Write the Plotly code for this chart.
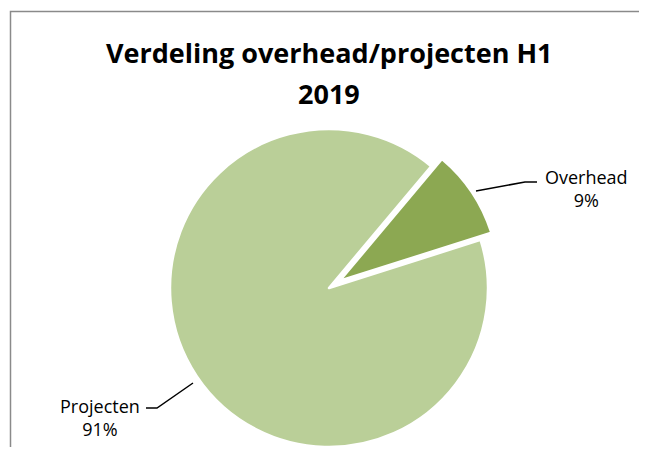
import math
import plotly.graph_objects as go

labels = ["Overhead", "Projecten"]
values = [9, 91]
colors = ["#8CA852", "#BACF98"]

# the page puts an 8px body margin around the plot, so the figure is
# made 16px smaller and all positions below are given in page pixels
OFF = 8
W, H = 647 - 2 * OFF, 455 - 2 * OFF
cx, cy, r = 329, 288, 159      # pie centre / radius (page pixels)
rotation = 40                  # start of first slice, clockwise from 12 o'clock
pull_px = 13                   # explosion of the Overhead slice


def px_x(x):
    return (x - OFF) / W


def px_y(y):
    return 1 - (y - OFF) / H


def domain(ccx, ccy):
    b = H - (ccy - OFF)
    return dict(x=[px_x(ccx - r), px_x(ccx + r)],
                y=[max(0, (b - r) / H), min(1, (b + r) / H)])


# Overhead slice is drawn as its own pie, shifted along its bisector
share = values[0] / sum(values)
mid = math.radians(rotation + share * 360 / 2)
dx, dy = pull_px * math.sin(mid), -pull_px * math.cos(mid)

clear = "rgba(0,0,0,0)"
fig = go.Figure()
fig.add_trace(go.Pie(
    labels=labels, values=values, sort=False, direction="clockwise",
    rotation=rotation, textinfo="none", hoverinfo="label+percent",
    marker=dict(colors=[clear, colors[1]], line=dict(color=[clear, "white"], width=[0, 2.5])),
    domain=domain(cx, cy), showlegend=False,
))
fig.add_trace(go.Pie(
    labels=labels, values=values, sort=False, direction="clockwise",
    rotation=rotation, textinfo="none", hoverinfo="label+percent",
    marker=dict(colors=[colors[0], clear], line=dict(color=["white", clear], width=[2.5, 0])),
    domain=domain(cx + dx, cy + dy), showlegend=False,
))

font = "'Open Sans', Calibri, sans-serif"
pct = [f"{round(v / sum(values) * 100)}%" for v in values]

fig.add_annotation(x=px_x(329), y=px_y(52), xref="paper", yref="paper",
                   text="<b>Verdeling overhead/projecten H1</b>", showarrow=False,
                   font=dict(family=font, size=27, color="black"), xanchor="center", yanchor="middle")
fig.add_annotation(x=px_x(329), y=px_y(93), xref="paper", yref="paper",
                   text="<b>2019</b>", showarrow=False,
                   font=dict(family=font, size=27, color="black"), xanchor="center", yanchor="middle")
fig.add_annotation(x=px_x(586), y=px_y(188), xref="paper", yref="paper",
                   text=f"{labels[0]}<br>{pct[0]}", showarrow=False,
                   font=dict(family=font, size=18, color="black"), xanchor="center", yanchor="middle")
fig.add_annotation(x=px_x(100), y=px_y(417), xref="paper", yref="paper",
                   text=f"{labels[1]}<br>{pct[1]}", showarrow=False,
                   font=dict(family=font, size=18, color="black"), xanchor="center", yanchor="middle")


def path(points):
    return "M " + " L ".join(f"{px_x(x)},{px_y(y)}" for x, y in points)


fig.add_shape(type="path", xref="paper", yref="paper",
              path=path([(476, 191), (525, 182), (537, 182)]), line=dict(color="black", width=1.5))
fig.add_shape(type="path", xref="paper", yref="paper",
              path=path([(146, 408), (157, 408), (193, 383)]), line=dict(color="black", width=1.5))

# chart frame: only left and top edges are inside the picture
fig.add_shape(type="path", xref="paper", yref="paper",
              path=path([(10.5, 470), (10.5, 11.5), (660, 11.5)]),
              line=dict(color="#8A8A8A", width=1.5), layer="below")

fig.update_layout(width=W, height=H, margin=dict(l=0, r=0, t=0, b=0),
                  paper_bgcolor="white", plot_bgcolor="white")
fig.write_html("out.html")
